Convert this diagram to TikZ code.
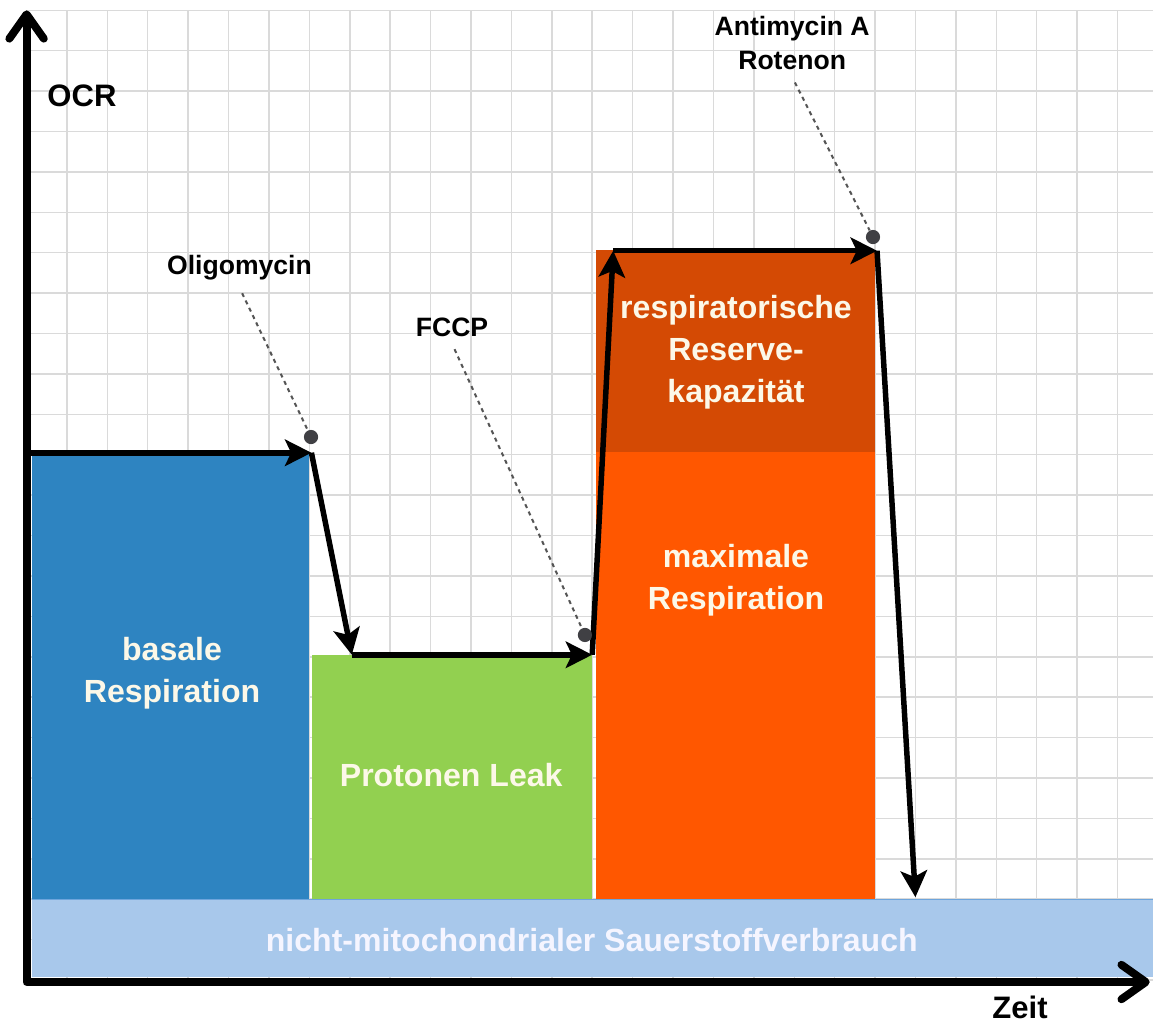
\documentclass[tikz,border=0pt]{standalone}
\usepackage{fontspec}
\setmainfont{Liberation Sans}
\usetikzlibrary{arrows.meta}

\definecolor{gridgray}{RGB}{218,218,218}
\definecolor{basalblue}{RGB}{46,132,193}
\definecolor{leakgreen}{RGB}{146,208,80}
\definecolor{maxorange}{RGB}{255,87,0}
\definecolor{reserveorange}{RGB}{212,74,4}
\definecolor{bandblue}{RGB}{168,200,235}
\definecolor{bandedge}{RGB}{110,165,220}
\definecolor{labelcream}{RGB}{252,248,232}
\definecolor{dotgray}{RGB}{64,64,68}
\definecolor{leadergray}{RGB}{85,85,85}

\tikzset{
    gridline/.style={draw=gridgray, line width=0.7pt, step=0.7cm},
    axisline/.style={line width=3.9pt, line join=round, <->,
        >={Straight Barb[round, length=12pt, width=17pt]}},
    trace/.style={line width=2.7pt, line join=round,
        -{Stealth[length=13pt, width=13pt, inset=3pt]}},
    leader/.style={draw=leadergray, line width=1pt,
        dash pattern=on 2pt off 2pt, shorten <=3pt},
    pindot/.style={circle, fill=dotgray, inner sep=0pt, minimum size=7pt},
    boxlabel/.style={text=labelcream, align=center,
        font=\bfseries\fontsize{15.8}{20.7}\selectfont},
    druglabel/.style={align=center,
        font=\bfseries\fontsize{13.1}{16.8}\selectfont},
    axislabel/.style={font=\bfseries\fontsize{15.3}{18}\selectfont},
}

\begin{document}
\begin{tikzpicture}[x=0.7cm, y=0.7cm]
\useasboundingbox (-0.658,-1.114) rectangle (27.881,24.257);

% =============================================================================
% Background grid
% =============================================================================
\draw[gridline] (0,0) grid (27.881,24);

% =============================================================================
% Respiration blocks
% =============================================================================
% basal respiration
\fill[basalblue] (0.13,2) rectangle (7,13.07);
% proton leak
\fill[leakgreen] (7.07,2) rectangle (14,8.05);
% maximal respiration
\fill[maxorange] (14.1,2) rectangle (21,13.07);
% spare capacity
\fill[reserveorange] (14.1,13.07) rectangle (21,18.07);
% non-mitochondrial band
\fill[bandblue] (0.13,0.07) rectangle (27.881,2);
\draw[bandedge, line width=0.6pt] (0.13,2) -- (27.881,2);

\node[boxlabel] (basal) at (3.6,7.6) {basale\\Respiration};
\node[boxlabel] (leak) at (10.51,5.07) {Protonen Leak};
\node[boxlabel] (maximal) at (17.56,9.9) {maximale\\Respiration};
\node[boxlabel] (reserve) at (17.56,15.54) {respiratorische\\Reserve-\\kapazität};
\node[boxlabel, text=white!96!blue] (nonmito) at (13.99,0.99)
    {nicht-mitochondrialer Sauerstoffverbrauch};

% =============================================================================
% Axes
% =============================================================================
\coordinate (origin) at (0,-0.05);
\coordinate (ytip) at (0,24);
\coordinate (xtip) at (27.8,-0.05);
\draw[axisline] (ytip) -- (origin) -- (xtip);

\node[axislabel] (ocr) at (1.37,21.88) {OCR};
\node[axislabel] (zeit) at (24.59,-0.68) {Zeit};

% =============================================================================
% OCR trace
% =============================================================================
\coordinate (start) at (0,13.05);
\coordinate (oligo) at (7.05,13.05);
\coordinate (leakpt) at (8.05,8.05);
\coordinate (fccp) at (14.0,8.05);
\coordinate (maxstart) at (14.52,18.05);
\coordinate (anti) at (21.05,18.05);
\coordinate (floor) at (22.0,2.05);

\draw[trace] (start) -- (oligo);
\draw[trace] (oligo) -- (leakpt);
\draw[trace] (leakpt) -- (fccp);
\draw[trace] (fccp) -- (maxstart);
\draw[trace] (maxstart) -- (anti);
\draw[trace] (anti) -- (floor);

% =============================================================================
% Injections
% =============================================================================
\node[druglabel] (oligolabel) at (5.27,17.62) {Oligomycin};
\node[druglabel] (fccplabel) at (10.53,16.16) {FCCP};
\node[druglabel] (antilabel) at (18.95,23.19) {Antimycin A\\Rotenon};

\node[pindot] (oligodot) at (7.04,13.44) {};
\node[pindot] (fccpdot) at (13.82,8.54) {};
\node[pindot] (antidot) at (20.95,18.39) {};

\draw[leader] (oligolabel.south) -- (oligodot);
\draw[leader] (fccplabel.south) -- (fccpdot);
\draw[leader] (antilabel.south) -- (antidot);

\end{tikzpicture}
\end{document}
